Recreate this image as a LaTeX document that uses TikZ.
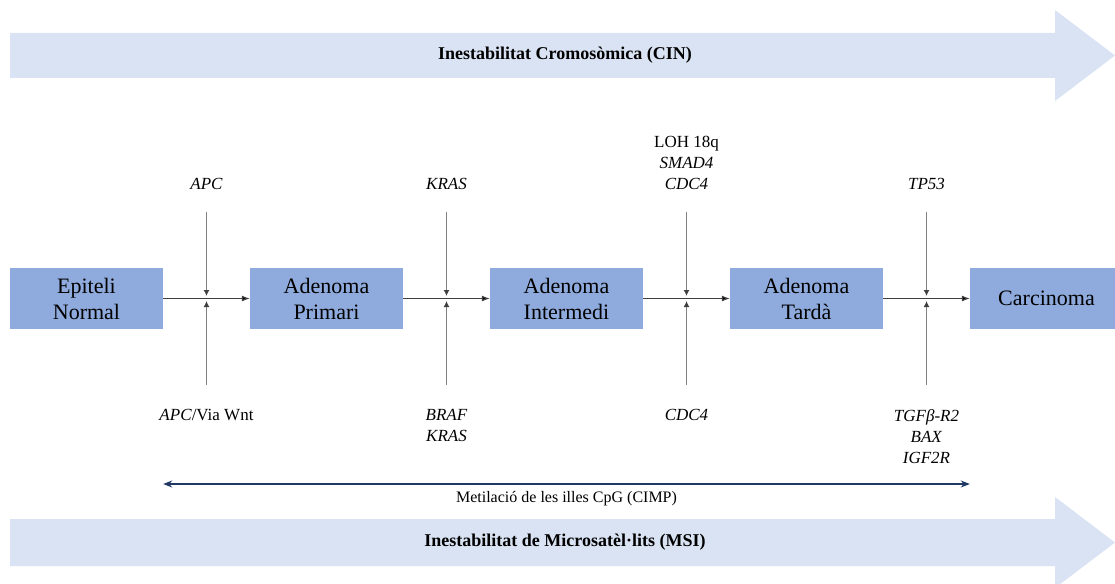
\documentclass[tikz,border=0pt]{standalone}
\usepackage{fontspec}
\setmainfont{LiberationSerif}[Extension=.ttf, UprightFont=*-Regular, BoldFont=*-Bold, ItalicFont=*-Italic, BoldItalicFont=*-BoldItalic]
\usepackage{tikz}
\usetikzlibrary{matrix,arrows.meta,calc}
\definecolor{caixa}{HTML}{8FAADC}
\definecolor{franja}{HTML}{DAE3F3}
\definecolor{fosc}{HTML}{404040}
\definecolor{gris}{HTML}{808080}
\definecolor{mari}{HTML}{1F3864}
\tikzset{
	etapa/.style={fill=caixa, minimum width=153pt, minimum height=61pt, inner sep=0pt, align=center, font=\fontsize{22}{26}\selectfont},
	gen/.style={align=center, inner sep=0pt, font=\fontsize{17}{21}\selectfont},
	titol/.style={font=\fontsize{18}{22}\selectfont\bfseries},
	via/.style={draw=gris, line width=1.4pt, shorten >=2.5pt, -{Latex[length=6pt,width=6pt,color=fosc]}}
}

\begin{document}
\begin{tikzpicture}[x=1pt, y=-1pt]
\useasboundingbox (0,0) rectangle (1115,583);
\fill[franja] (10,33) -- (1055,33) -- (1055,10) -- (1115,55.5) -- (1055,101) -- (1055,78) -- (10,78) -- cycle;
\fill[franja] (10,519) -- (1055,519) -- (1055,497) -- (1115,542.5) -- (1055,588) -- (1055,566) -- (10,566) -- cycle;
\node[titol] (cin) at (565,55.5) {Inestabilitat Cromosòmica (CIN)};
\node[titol] (msi) at (565,542) {Inestabilitat de Microsatèl·lits (MSI)};

\matrix (m) [column sep=87pt] at (566.5,298.5)
{
	\node[etapa] (m-1-1) {Epiteli\\Normal}; & \node[etapa] (m-1-2) {Adenoma\\Primari}; & \node[etapa] (m-1-3) {Adenoma\\Intermedi}; & \node[etapa] (m-1-4) {Adenoma\\Tardà}; & \node[etapa] (m-1-5) {Carcinoma}; \\
};
\path[draw=fosc, line width=1.1pt, -{Latex[length=8pt,width=6pt]}]
(m-1-1) edge (m-1-2)
(m-1-2) edge (m-1-3)
(m-1-3) edge (m-1-4)
(m-1-4) edge (m-1-5);

\foreach \a/\b in {1/2,2/3,3/4,4/5}{
	\coordinate (j\a) at ($(m-1-\a.east)!0.5!(m-1-\b.west)$);
	\coordinate (t\a) at ($(j\a)+(0,-87)$);
	\coordinate (b\a) at ($(j\a)+(0,86.5)$);
	\draw[via] (t\a) -- (j\a);
	\draw[via] (b\a) -- (j\a);
}

\node[gen, anchor=south] (g1) at ($(t1)+(0,-22)$) {\textit{APC}};
\node[gen, anchor=south] (g2) at ($(t2)+(0,-22)$) {\textit{KRAS}};
\node[gen, anchor=south] (g3) at ($(t3)+(0,-22)$) {LOH 18q\\\textit{SMAD4}\\\textit{CDC4}};
\node[gen, anchor=south] (g4) at ($(t4)+(0,-22)$) {\textit{TP53}};
\node[gen, anchor=north] (h1) at ($(b1)+(0,24)$) {\textit{APC}/Via Wnt};
\node[gen, anchor=north] (h2) at ($(b2)+(0,24)$) {\textit{BRAF}\\\textit{KRAS}};
\node[gen, anchor=north] (h3) at ($(b3)+(0,24)$) {\textit{CDC4}};
\node[gen, anchor=north] (h4) at ($(b4)+(0,24)$) {\textit{TGFβ-R2}\\\textit{BAX}\\\textit{IGF2R}};

\coordinate (ci) at (m-1-1.east |- 0,484);
\coordinate (cf) at (m-1-5.west |- 0,484);
\draw[mari, line width=2pt, {Stealth[length=9pt,width=7pt]}-{Stealth[length=9pt,width=7pt]}]
(ci) -- node[below=3pt, text=black, font=\fontsize{16}{19}\selectfont] (cimp) {Metilació de les illes CpG (CIMP)} (cf);
\end{tikzpicture}
\end{document}
